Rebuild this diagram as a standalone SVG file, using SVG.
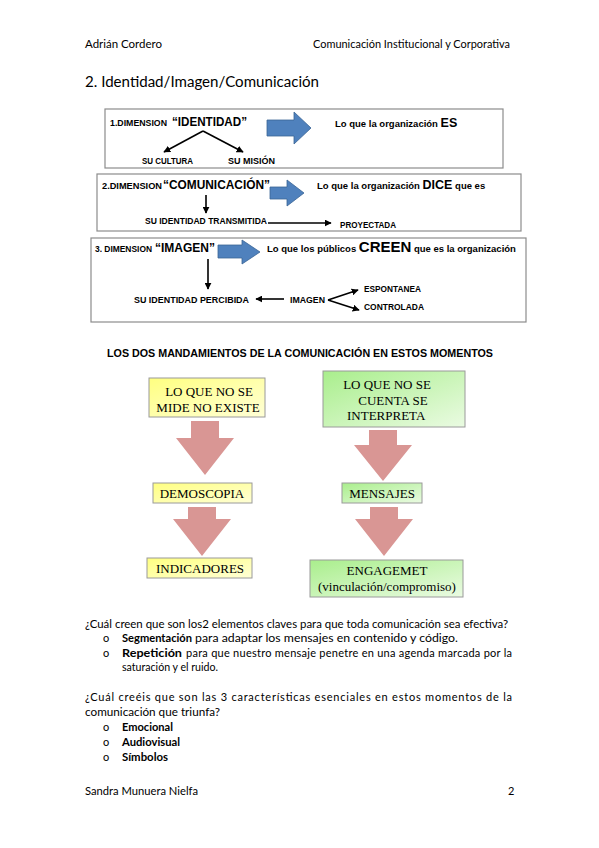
<svg xmlns="http://www.w3.org/2000/svg" width="599" height="848" viewBox="0 0 599 848">
<defs>
<marker id="ah" viewBox="0 0 10 10" refX="9" refY="5" markerWidth="7" markerHeight="7" markerUnits="userSpaceOnUse" orient="auto"><path d="M0,0 L10,5 L0,10 z" fill="#000"/></marker>
<linearGradient id="gy" x1="0" y1="0" x2="1" y2="1"><stop offset="0" stop-color="#FFFF80"/><stop offset="1" stop-color="#FFFFD6"/></linearGradient>
<linearGradient id="gg" x1="0" y1="0" x2="1" y2="1"><stop offset="0" stop-color="#A9EE8C"/><stop offset="1" stop-color="#EAFBE2"/></linearGradient>
</defs>
<style>
.t{font-family:Lato,"Open Sans","Liberation Sans",sans-serif;font-size:11px;fill:#000}
.b{font-weight:bold}
.ar{font-family:"Liberation Sans",Arial,sans-serif;font-weight:bold;fill:#000}
.sm{font-size:8.6px}
.tm{font-family:"Liberation Serif","Times New Roman",serif;font-size:13px;fill:#000;text-anchor:middle}
.frame{fill:#fff;stroke:#8c8c8c;stroke-width:1.2}
.blue{fill:#4F81BD;stroke:#3A6595;stroke-width:0.8}
.pink{fill:#D99694}
.ln{stroke:#000;stroke-width:1.6;fill:none;marker-end:url(#ah)}
.yb{fill:url(#gy);stroke:#9a9a9a;stroke-width:1}
.gb{fill:url(#gg);stroke:#9a9a9a;stroke-width:1}
</style>
<rect width="599" height="848" fill="#fff"/>

<g id="header">
<text class="t" x="85" y="48" textLength="77" lengthAdjust="spacingAndGlyphs">Adrián Cordero</text>
<text class="t" x="313" y="48" textLength="197" lengthAdjust="spacingAndGlyphs">Comunicación Institucional y Corporativa</text>
<text class="t" x="85" y="87" style="font-size:15.5px" textLength="234" lengthAdjust="spacingAndGlyphs">2. Identidad/Imagen/Comunicación</text>
</g>

<g id="dim1">
<rect class="frame" x="105" y="109" width="398" height="59"/>
<text class="ar" x="110" y="126" style="font-size:8.8px" textLength="57" lengthAdjust="spacingAndGlyphs">1.DIMENSION</text>
<text class="ar" x="172" y="126" style="font-size:12.5px" textLength="75" lengthAdjust="spacingAndGlyphs">“IDENTIDAD”</text>
<path class="blue" d="M267,120 H294 V112 L311,128 L294,144 V136 H267 Z"/>
<text class="ar" x="335" y="127" style="font-size:9.5px">Lo que la organización <tspan style="font-size:12.5px">ES</tspan></text>
<text class="ar sm" x="142" y="164" textLength="51" lengthAdjust="spacingAndGlyphs">SU CULTURA</text>
<text class="ar sm" x="228" y="164" textLength="47" lengthAdjust="spacingAndGlyphs">SU MISIÓN</text>
</g>

<g id="dim2">
<rect class="frame" x="97" y="174" width="424" height="57"/>
<text class="ar" x="102" y="189" style="font-size:8.8px" textLength="60" lengthAdjust="spacingAndGlyphs">2.DIMENSION</text>
<text class="ar" x="163" y="189" style="font-size:12px" textLength="107" lengthAdjust="spacingAndGlyphs">“COMUNICACIÓN”</text>
<path class="blue" d="M270,187 H287 V180 L304,193 L287,206 V199 H270 Z"/>
<text class="ar" x="317" y="189" style="font-size:9.5px">Lo que la organización <tspan style="font-size:12.5px">DICE</tspan> que es</text>
<text class="ar sm" x="145" y="224" textLength="122" lengthAdjust="spacingAndGlyphs">SU IDENTIDAD TRANSMITIDA</text>
<text class="ar sm" x="340" y="228" textLength="56" lengthAdjust="spacingAndGlyphs">PROYECTADA</text>
</g>

<g id="dim3">
<rect class="frame" x="91" y="238" width="435" height="84"/>
<text class="ar" x="95" y="252" style="font-size:8.8px" textLength="57" lengthAdjust="spacingAndGlyphs">3. DIMENSION</text>
<text class="ar" x="155" y="252" style="font-size:12.5px" textLength="60" lengthAdjust="spacingAndGlyphs">“IMAGEN”</text>
<path class="blue" d="M218,245 H242 V240 L260,252 L242,264 V258 H218 Z"/>
<text class="ar" x="267" y="252" style="font-size:9.5px">Lo que los públicos <tspan style="font-size:15px">CREEN</tspan> que  es la organización</text>
<text class="ar sm" x="134" y="303" textLength="115" lengthAdjust="spacingAndGlyphs">SU IDENTIDAD PERCIBIDA</text>
<text class="ar sm" x="290" y="303" textLength="35" lengthAdjust="spacingAndGlyphs">IMAGEN</text>
<text class="ar sm" x="364" y="292" textLength="57" lengthAdjust="spacingAndGlyphs">ESPONTANEA</text>
<text class="ar sm" x="364" y="310" textLength="60" lengthAdjust="spacingAndGlyphs">CONTROLADA</text>
</g>

<g id="connectors">
<path class="ln" d="M203,131 L164,152"/>
<path class="ln" d="M203,131 L243,152"/>
<path class="ln" d="M206,195 V213"/>
<path class="ln" d="M268,223 H331"/>
<path class="ln" d="M208,259 V289"/>
<path class="ln" d="M284,299 H256"/>
<path class="ln" d="M328,300 L358,290"/>
<path class="ln" d="M328,300 L359,310"/>
<path class="pink" d="M191,421 H219 V438 H234 L205,475 L176,438 H191 Z"/>
<path class="pink" d="M188,507 H216 V519 H231 L202,556 L173,519 H188 Z"/>
<path class="pink" d="M369,430 H397 V445 H412 L383,481 L354,445 H369 Z"/>
<path class="pink" d="M370,507 H398 V519 H413 L384,556 L355,519 H370 Z"/>
</g>

<text class="ar" x="107" y="357" style="font-size:10.8px" textLength="386" lengthAdjust="spacingAndGlyphs">LOS DOS MANDAMIENTOS DE LA COMUNICACIÓN EN ESTOS MOMENTOS</text>

<g id="mide">
<rect class="yb" x="149" y="378" width="116" height="39"/>
<text class="tm" x="209" y="396">LO QUE NO SE</text>
<text class="tm" x="208" y="412">MIDE NO EXISTE</text>
</g>
<g id="cuenta">
<rect class="gb" x="323" y="371" width="142" height="56"/>
<text class="tm" x="387" y="389">LO QUE NO SE</text>
<text class="tm" x="393" y="405">CUENTA SE</text>
<text class="tm" x="347" y="420" style="text-anchor:start">INTERPRETA</text>
</g>
<g id="demoscopia">
<rect class="yb" x="153" y="483" width="99" height="20"/>
<text class="tm" x="202" y="498">DEMOSCOPIA</text>
</g>
<g id="indicadores">
<rect class="yb" x="147" y="558" width="105" height="20"/>
<text class="tm" x="200" y="573">INDICADORES</text>
</g>
<g id="mensajes">
<rect class="gb" x="342" y="483" width="80" height="20"/>
<text class="tm" x="382" y="498">MENSAJES</text>
</g>
<g id="engagemet">
<rect class="gb" x="310" y="560" width="153" height="37"/>
<text class="tm" x="387" y="575">ENGAGEMET</text>
<text class="tm" x="387" y="591">(vinculación/compromiso)</text>
</g>

<g id="body">
<text class="t" x="85" y="628" textLength="423" lengthAdjust="spacingAndGlyphs">¿Cuál creen que son los2 elementos claves para que toda comunicación sea efectiva?</text>
<text class="t" x="103" y="642">o</text>
<text class="t b" x="122" y="642" textLength="70" lengthAdjust="spacingAndGlyphs">Segmentación</text>
<text class="t" x="195" y="642" textLength="263" lengthAdjust="spacingAndGlyphs">para adaptar los mensajes en contenido y código.</text>
<text class="t" x="103" y="657">o</text>
<text class="t b" x="122" y="657" textLength="60" lengthAdjust="spacingAndGlyphs">Repetición</text>
<text class="t" x="186" y="657" textLength="326" lengthAdjust="spacing">para que nuestro mensaje penetre en una agenda marcada por la</text>
<text class="t" x="122" y="671" textLength="96" lengthAdjust="spacingAndGlyphs">saturación y el ruido.</text>
<text class="t" x="85" y="701" textLength="427" lengthAdjust="spacing">¿Cuál creéis que son las 3 características esenciales en estos momentos de la</text>
<text class="t" x="85" y="716" textLength="135" lengthAdjust="spacingAndGlyphs">comunicación que triunfa?</text>
<text class="t" x="103" y="731">o</text>
<text class="t b" x="122" y="731" textLength="51" lengthAdjust="spacingAndGlyphs">Emocional</text>
<text class="t" x="103" y="746">o</text>
<text class="t b" x="122" y="746" textLength="58" lengthAdjust="spacingAndGlyphs">Audiovisual</text>
<text class="t" x="103" y="761">o</text>
<text class="t b" x="122" y="761" textLength="46" lengthAdjust="spacingAndGlyphs">Símbolos</text>
</g>

<g id="footer">
<text class="t" x="85" y="795" textLength="113" lengthAdjust="spacingAndGlyphs">Sandra Munuera Nielfa</text>
<text class="t" x="508" y="795">2</text>
</g>
</svg>
